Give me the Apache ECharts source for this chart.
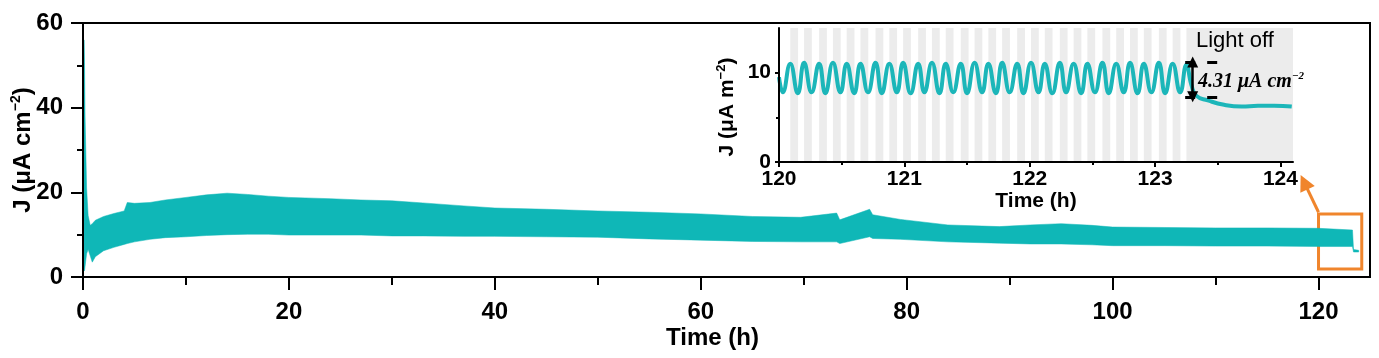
<!DOCTYPE html>
<html><head><meta charset="utf-8">
<script src="https://cdn.jsdelivr.net/npm/echarts@6/dist/echarts.min.js"></script>
<style>html,body{margin:0;padding:0;background:#fff}#c{width:1379px;height:358px}</style>
</head><body><div id="c"></div>
<script>
// ---------- main chart: envelope of the dense oscillating current ----------
const bandTime  = [0.1, 0.15, 0.2, 0.35, 0.5, 0.7, 0.9, 1.2, 2, 3, 4, 4.3, 5, 6.5, 8, 10, 12, 14, 16, 18, 20, 24, 27, 30, 33, 37, 40, 45, 50, 55, 60, 65, 69.7, 73.2, 73.5, 76.4, 76.7, 79.4, 84, 89, 92, 95, 98, 100, 105, 110, 115, 120, 123.3, 123.4, 123.9];
const bandUpper = [56, 50, 38, 21, 14.5, 12.2, 12.6, 13.4, 14.3, 15.0, 15.6, 17.6, 17.4, 17.6, 18.2, 18.8, 19.4, 19.8, 19.5, 19.1, 18.8, 18.5, 18.2, 18.0, 17.5, 16.8, 16.3, 16.0, 15.6, 15.3, 14.9, 14.3, 14.1, 15.1, 13.5, 16.0, 14.7, 13.6, 12.3, 11.9, 12.3, 12.6, 12.2, 11.8, 11.7, 11.6, 11.6, 11.5, 11.1, 6.5, 6.3];
const bandLower = [1.5, 1.5, 2.5, 5.5, 6.5, 5.0, 3.5, 4.8, 6.2, 7.0, 7.7, 7.9, 8.3, 8.9, 9.3, 9.5, 9.8, 10.0, 10.1, 10.1, 9.9, 9.9, 9.9, 9.7, 9.7, 9.6, 9.6, 9.5, 9.4, 9.0, 8.7, 8.4, 8.3, 8.3, 7.9, 9.5, 9.1, 8.9, 8.3, 8.0, 7.8, 7.8, 7.6, 7.4, 7.4, 7.3, 7.3, 7.2, 7.2, 5.9, 5.9];
const mainXTicks = [0, 20, 40, 60, 80, 100, 120];
const mainXMinor = [10, 30, 50, 70, 90, 110];
const mainYTicks = [0, 20, 40, 60];
const mainYMinor = [10, 30, 50];
// zoom box (x0, y0, x1, y1) and arrow (from, to)
const zoomBox = [120, 14.9, 124.2, 1.9];
const zoomArrow = [[120.0, 15.3], [118.6, 22.4]];

// ---------- inset: 120-124 h ----------
const insetTime = [120.00,
  120.03, 120.09, 120.15, 120.20, 120.26, 120.32, 120.37, 120.43, 120.49, 120.54,
  120.60, 120.65, 120.71, 120.77, 120.82, 120.88, 120.94, 120.99, 121.05, 121.11,
  121.16, 121.22, 121.28, 121.33, 121.39, 121.45, 121.50, 121.56, 121.62, 121.67,
  121.73, 121.78, 121.84, 121.90, 121.95, 122.01, 122.07, 122.12, 122.18, 122.24,
  122.29, 122.35, 122.41, 122.46, 122.52, 122.58, 122.63, 122.69, 122.75, 122.80,
  122.86, 122.91, 122.97, 123.03, 123.08, 123.14, 123.20, 123.25,
  123.29, 123.33, 123.42, 123.55, 123.69, 123.82, 123.95, 124.09];
const insetJ = [9.5,
  7.8, 11.0, 7.7, 11.1, 7.8, 11.0, 7.7, 11.1, 7.8, 11.0,
  7.7, 11.0, 7.8, 11.1, 7.7, 11.0, 7.8, 11.1, 7.7, 11.0,
  7.8, 11.1, 7.7, 11.0, 7.8, 11.0, 7.7, 11.1, 7.8, 11.0,
  7.7, 11.1, 7.8, 11.0, 7.7, 11.1, 7.8, 11.0, 7.7, 11.1,
  7.8, 11.0, 7.7, 11.0, 7.8, 11.1, 7.7, 11.0, 7.8, 11.1,
  7.7, 11.0, 7.8, 11.1, 7.7, 11.0, 7.8, 10.9,
  8.6, 7.4, 6.9, 6.4, 6.2, 6.3, 6.3, 6.2];
// light-off periods (start times) during illumination cycling
const lightOffStart = [120.09, 120.20, 120.32, 120.43, 120.54, 120.65, 120.77, 120.88, 120.99, 121.11,
  121.22, 121.33, 121.45, 121.56, 121.67, 121.78, 121.90, 122.01, 122.12, 122.24,
  122.35, 122.46, 122.58, 122.69, 122.80, 122.91, 123.03, 123.14];
const lightOffDur = 0.062;
const finalDark = [123.25, 124.1];
const insetXTicks = [120, 121, 122, 123, 124];
const insetXMinor = [120.5, 121.5, 122.5, 123.5];
const insetYTicks = [0, 10];
const insetYMinor = [5];
// annotation: step levels and x position
const stepLevels = [11.2, 7.3];
const stepX = [123.24, 123.51];
const stepArrowX = 123.30;

const FONT = '"Liberation Sans", Arial, Helvetica, sans-serif';
const SERIF = '"Liberation Serif", "Times New Roman", serif';
const TEAL = '#0fb7b7';
const ORANGE = '#f0852c';

function tickAxis(common, values, len, showLine, labels, labelSize, margin) {
  return Object.assign({
    type: 'value', z: 10,
    axisLine: { show: showLine, onZero: false, lineStyle: { color: '#000', width: 2 } },
    axisTick: { show: true, inside: false, length: len, customValues: values, lineStyle: { color: '#000', width: 2 } },
    axisLabel: labels ? { show: true, customValues: values, color: '#000', fontFamily: FONT, fontWeight: 'bold', fontSize: labelSize, margin: margin } : { show: false },
    splitLine: { show: false },
    minorTick: { show: false }
  }, common);
}

const chart = echarts.init(document.getElementById('c'), null, { renderer: 'canvas' });

const option = {
  animation: false,
  backgroundColor: '#fff',
  grid: [
    { left: 83, right: 9, top: 23, bottom: 81, show: true, borderColor: '#000', borderWidth: 2, backgroundColor: 'transparent',
      containLabel: false, outerBoundsMode: 'none' },
    { left: 779, right: 86, top: 28, bottom: 196, show: false, containLabel: false, outerBoundsMode: 'none' }
  ],
  xAxis: [
    tickAxis({ gridIndex: 0, min: 0, max: 125, position: 'bottom',
      name: 'Time (h)', nameLocation: 'middle', nameGap: 49, nameMoveOverlap: false,
      nameTextStyle: { color: '#000', fontFamily: FONT, fontWeight: 'bold', fontSize: 24, padding: [0, 28, 0, 0] } },
      mainXTicks, 13, true, true, 24, 23),
    tickAxis({ gridIndex: 0, min: 0, max: 125, position: 'bottom' }, mainXMinor, 8, false, false),
    tickAxis({ gridIndex: 1, min: 120, max: 124.1, position: 'bottom',
      name: 'Time (h)', nameLocation: 'middle', nameGap: 27,
      nameTextStyle: { color: '#000', fontFamily: FONT, fontWeight: 'bold', fontSize: 21 } },
      insetXTicks, 5, true, true, 21, 7),
    tickAxis({ gridIndex: 1, min: 120, max: 124.1, position: 'bottom' }, insetXMinor, 3, false, false)
  ],
  yAxis: [
    tickAxis({ gridIndex: 0, min: 0, max: 60, position: 'left',
      name: '{b|J (μA cm}{s|−2}{b|)}', nameLocation: 'middle', nameGap: 46, nameRotate: 90, nameMoveOverlap: false,
      nameTextStyle: { color: '#000', rich: {
        b: { fontFamily: FONT, fontWeight: 'bold', fontSize: 24, lineHeight: 28, color: '#000' },
        s: { fontFamily: FONT, fontWeight: 'bold', fontSize: 14, lineHeight: 14, verticalAlign: 'top', color: '#000' } } } },
      mainYTicks, 12, true, true, 24, 20),
    tickAxis({ gridIndex: 0, min: 0, max: 60, position: 'left' }, mainYMinor, 6, false, false),
    tickAxis({ gridIndex: 1, min: 0, max: 15, position: 'left',
      name: '{b|J (μA m}{s|−2}{b|)}', nameLocation: 'middle', nameGap: 40, nameRotate: 90,
      nameTextStyle: { color: '#000', padding: [0, 24, 0, 0], rich: {
        b: { fontFamily: FONT, fontWeight: 'bold', fontSize: 21, lineHeight: 24, color: '#000' },
        s: { fontFamily: FONT, fontWeight: 'bold', fontSize: 13, lineHeight: 13, verticalAlign: 'top', color: '#000' } } } },
      insetYTicks, 4, true, true, 21, 8),
    tickAxis({ gridIndex: 1, min: 0, max: 15, position: 'left' }, insetYMinor, 3, false, false)
  ],
  series: [
    // main band
    {
      type: 'custom', xAxisIndex: 0, yAxisIndex: 0, z: 2, silent: true,
      data: [[bandTime[0], bandLower[0]]],
      renderItem: function (params, api) {
        const pts = [];
        for (let i = 0; i < bandTime.length; i++) pts.push(api.coord([bandTime[i], bandUpper[i]]));
        for (let i = bandTime.length - 1; i >= 0; i--) pts.push(api.coord([bandTime[i], bandLower[i]]));
        return { type: 'polygon', shape: { points: pts }, style: { fill: TEAL, stroke: TEAL, lineWidth: 0.5 } };
      }
    },
    // zoom box + arrow on the main chart
    {
      type: 'line', xAxisIndex: 0, yAxisIndex: 0, data: [], z: 5, silent: true,
      markArea: { silent: true, itemStyle: { color: 'rgba(0,0,0,0)', borderColor: ORANGE, borderWidth: 3 },
        data: [[{ coord: [zoomBox[0], zoomBox[1]] }, { coord: [zoomBox[2], zoomBox[3]] }]] },
      markLine: { silent: true, symbol: ['none', 'triangle'], symbolSize: [16, 16], label: { show: false },
        lineStyle: { color: ORANGE, width: 3, type: 'solid' },
        data: [[{ coord: zoomArrow[0] }, { coord: zoomArrow[1] }]] }
    },
    // inset background stripes (light-off periods)
    {
      type: 'line', xAxisIndex: 2, yAxisIndex: 2, data: [], z: 1, silent: true,
      markArea: { silent: true, itemStyle: { color: '#ececec' },
        data: lightOffStart.map(s => [{ xAxis: s }, { xAxis: s + lightOffDur }])
          .concat([[{ xAxis: finalDark[0] }, { xAxis: finalDark[1] }]]) }
    },
    // inset curve
    {
      type: 'line', xAxisIndex: 2, yAxisIndex: 2, z: 3, silent: true,
      data: insetTime.map((t, i) => [t, insetJ[i]]),
      smooth: 0.5, showSymbol: false, symbol: 'none',
      lineStyle: { color: '#1cb6b9', width: 4 }
    },
    // step annotation (drawn above the curve)
    {
      type: 'line', xAxisIndex: 2, yAxisIndex: 2, data: [], z: 6, silent: true,
      markLine: { silent: true, label: { show: false }, animation: false,
        data: [
          [{ coord: [stepX[0], stepLevels[0]], symbol: 'none' }, { coord: [stepX[1], stepLevels[0]], symbol: 'none',
            lineStyle: { color: '#000', width: 3, type: [10, 12] } }],
          [{ coord: [stepX[0], stepLevels[1]], symbol: 'none' }, { coord: [stepX[1], stepLevels[1]], symbol: 'none',
            lineStyle: { color: '#000', width: 3, type: [10, 12] } }],
          [{ coord: [stepArrowX, stepLevels[1]], symbol: 'triangle', symbolSize: 11 }, { coord: [stepArrowX, stepLevels[0]], symbol: 'triangle', symbolSize: 11,
            lineStyle: { color: '#000', width: 2.5, type: 'solid' } }]
        ],
        lineStyle: { color: '#000', width: 3 } }
    }
  ],
  graphic: [
    { type: 'text', left: 1196, top: 30, z: 100, silent: true,
      style: { text: 'Light off', fill: '#000', font: '22px ' + FONT } },
    { type: 'text', left: 1198, top: 71, z: 100, silent: true,
      style: { text: '{a|4.31 μA cm}{s|−2}', rich: {
        a: { fontFamily: SERIF, fontStyle: 'italic', fontWeight: 'bold', fontSize: 20, lineHeight: 22, fill: '#000' },
        s: { fontFamily: SERIF, fontStyle: 'italic', fontWeight: 'bold', fontSize: 11, lineHeight: 11, verticalAlign: 'top', fill: '#000' } } } }
  ]
};
chart.setOption(option);
</script></body></html>
